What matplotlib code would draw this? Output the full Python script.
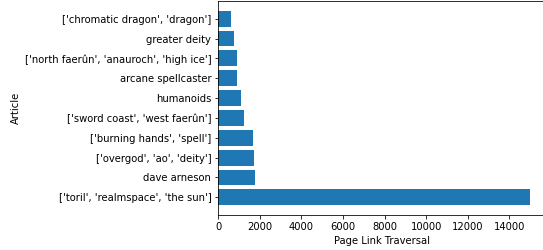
import matplotlib
matplotlib.use("Agg")
import matplotlib.pyplot as plt

articles = [
    "['toril', 'realmspace', 'the sun']",
    "dave arneson",
    "['overgod', 'ao', 'deity']",
    "['burning hands', 'spell']",
    "['sword coast', 'west faerûn']",
    "humanoids",
    "arcane spellcaster",
    "['north faerûn', 'anauroch', 'high ice']",
    "greater deity",
    "['chromatic dragon', 'dragon']",
]
traversals = [15000, 1766, 1718, 1670, 1251, 1107, 905, 914, 770, 611]

plt.rcParams['font.size'] = 10
fig = plt.figure(figsize=(543 / 72, 250 / 72), dpi=72)
ax = fig.add_axes([0.402, 0.14, 0.603, 0.856])
ax.barh(articles, traversals, color="#1f77b4")
ax.set_xlabel("Page Link Traversal")
ax.set_ylabel("Article")
fig.savefig("out.png", dpi=72)
